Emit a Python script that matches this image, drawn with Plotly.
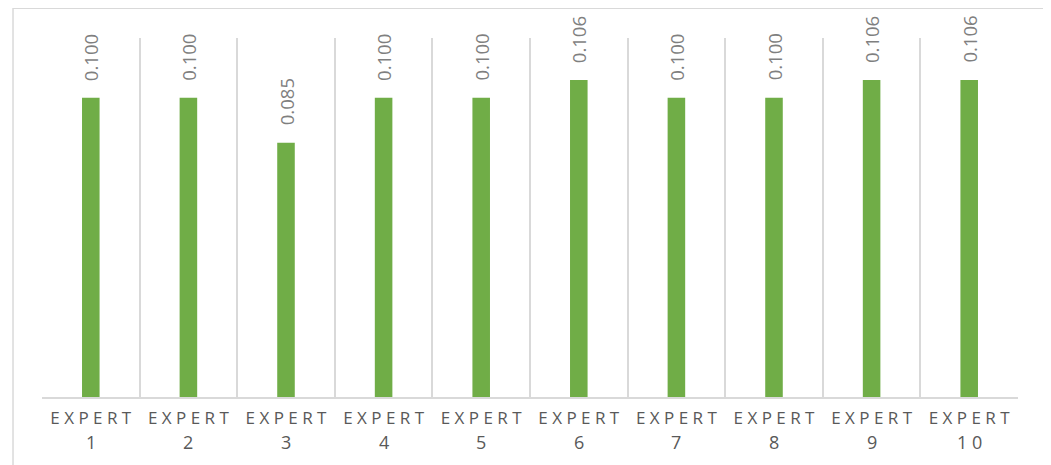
import plotly.graph_objects as go

experts = ["EXPERT 1", "EXPERT 2", "EXPERT 3", "EXPERT 4", "EXPERT 5",
           "EXPERT 6", "EXPERT 7", "EXPERT 8", "EXPERT 9", "EXPERT 10"]
numbers = ["1", "2", "3", "4", "5", "6", "7", "8", "9", "1 0"]
weights = [0.100, 0.100, 0.085, 0.100, 0.100, 0.106, 0.100, 0.100, 0.106, 0.106]
value_labels = ["0.100", "0.100", "0.085", "0.100", "0.100",
                "0.106", "0.100", "0.100", "0.106", "0.106"]

fig = go.Figure()
fig.add_trace(go.Bar(
    x=experts, y=weights, width=0.18,
    marker=dict(color="#70AD47", line=dict(width=0)),
    hoverinfo="x+y",
))

for e, w, t in zip(experts, weights, value_labels):
    fig.add_annotation(
        x=e, y=w, text=t, textangle=-90, showarrow=False,
        xanchor="center", yanchor="bottom", yshift=15,
        font=dict(family="Open Sans", size=18.5, color="#7F7F7F"),
    )

for e, n in zip(experts, numbers):
    fig.add_annotation(
        x=e, y=0, text=n, showarrow=False,
        xanchor="center", yanchor="middle", yshift=-45,
        font=dict(family="Open Sans", size=18, color="#595959"),
    )

fig.add_shape(type="rect", xref="paper", yref="paper",
              x0=-0.0297, x1=1.0277, y0=-0.3, y1=1.0826,
              line=dict(color="#D9D9D9", width=1.5), fillcolor="rgba(0,0,0,0)",
              layer="below")

fig.update_layout(
    width=1043, height=457,
    margin=dict(l=34, r=33, t=30, b=68),
    paper_bgcolor="white", plot_bgcolor="white",
    showlegend=False,
    font=dict(family="Open Sans", color="#595959"),
    xaxis=dict(
        type="category", tickson="boundaries",
        tickvals=experts, ticktext=["E X P E R T"] * len(experts),
        showgrid=True, gridcolor="#D9D9D9", gridwidth=1.5,
        showline=True, linecolor="#D9D9D9", linewidth=1.5,
        ticks="", tickfont=dict(size=17, color="#595959"),
        ticklabelstandoff=5,
        range=[-0.5, 9.5],
    ),
    yaxis=dict(
        range=[0, 0.12], showgrid=False, showticklabels=False,
        zeroline=False, showline=False, ticks="",
    ),
)

fig.write_html("out.html")
